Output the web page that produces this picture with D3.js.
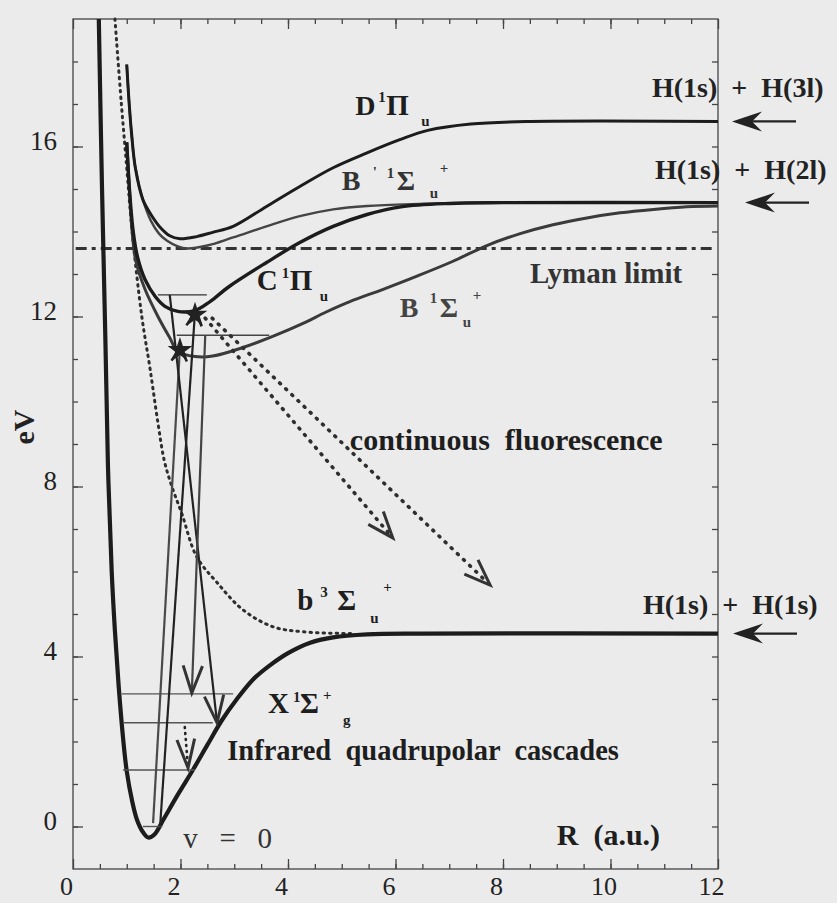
<!DOCTYPE html>
<html>
<head>
<meta charset="utf-8">
<script src="https://cdn.jsdelivr.net/npm/d3@7"></script>
<style>
  body { margin: 0; background: #ebebeb; }
  svg { display: block; font-family: "Liberation Serif", "Times New Roman", serif; }
  text { white-space: pre; }
</style>
</head>
<body>
<div id="chart"></div>
<script>
// potential energy curves of H2, points are [R (a.u.), E (eV)]
var curveX = [[0.48,19],[0.54,15],[0.6,11.6],[0.65,8.5],[0.72,6],[0.78,4.6],[0.85,3.3],[0.93,2.1],[1.0,1.3],[1.1,0.6],[1.19,0.16],[1.3,-0.13],[1.4,-0.26],[1.52,-0.18],[1.68,0.16],[1.95,0.75],[2.23,1.33],[2.5,1.92],[2.77,2.5],[3.05,3.0],[3.35,3.46],[3.65,3.78],[4.0,4.08],[4.4,4.32],[4.84,4.45],[5.47,4.52],[6.5,4.54],[12,4.54]];
var curveb3 = [[0.78,19],[0.9,17],[1.0,15.5],[1.1,14],[1.28,12],[1.43,10.8],[1.58,9.5],[1.7,8.6],[1.84,8.0],[2.03,7.34],[2.3,6.35],[2.68,5.74],[3.16,5.1],[3.72,4.7],[4.3,4.58],[5.2,4.54]];
var curveD = [[1.0,17.93],[1.04,17.1],[1.09,16.3],[1.16,15.5],[1.3,14.75],[1.45,14.4],[1.62,14.1],[1.8,13.9],[1.99,13.83],[2.3,13.88],[2.6,13.98],[2.98,14.12],[3.6,14.59],[4.22,15.06],[4.84,15.5],[5.47,15.85],[6.08,16.16],[6.6,16.38],[7.4,16.53],[8.5,16.59],[12,16.59]];
var curveBp = [[1.0,17.93],[1.04,17.1],[1.09,16.3],[1.16,15.5],[1.3,14.75],[1.45,14.25],[1.6,13.95],[1.75,13.78],[1.95,13.65],[2.12,13.6],[2.5,13.67],[2.98,13.86],[3.6,14.12],[4.22,14.36],[4.84,14.52],[5.47,14.6],[6.46,14.65],[7.5,14.68],[12,14.68]];
var curveC = [[1.0,16.1],[1.05,15.0],[1.12,14.0],[1.2,13.4],[1.34,12.87],[1.53,12.47],[1.71,12.24],[1.95,12.12],[2.27,12.14],[2.55,12.35],[2.9,12.7],[3.6,13.27],[4.22,13.74],[4.84,14.12],[5.47,14.4],[6.1,14.58],[7.0,14.66],[8,14.68],[12,14.68]];
var curveB = [[1.0,16.1],[1.05,15.0],[1.1,14.0],[1.17,13.3],[1.34,12.64],[1.58,12.0],[1.8,11.5],[1.95,11.18],[2.27,11.06],[2.6,11.07],[3.16,11.27],[3.75,11.55],[4.3,11.85],[4.7,12.1],[5.15,12.35],[5.77,12.64],[6.4,12.95],[7.07,13.3],[7.7,13.67],[8.32,13.95],[8.93,14.16],[9.56,14.32],[10.18,14.44],[10.8,14.52],[11.42,14.58],[12,14.6]];

// vibrational levels: energy, R start, R end
var levelsX = [[0,1.3,1.66],[1.33,0.93,2.27],[2.44,0.93,2.6],[3.12,0.91,2.98]];
var levelC = [12.51, 1.58, 2.49];
var levelB = [11.56, 1.93, 3.65];

// transitions [[R0,E0],[R1,E1]]
var upLines = [[[1.49,0.08],[1.99,11.28]], [[1.62,0],[2.27,12.11]]];
var downLines = [[[1.80,12.51],[2.68,2.44]], [[2.46,11.56],[2.21,3.14]]];
var irCascade = [[2.08,2.34],[2.14,1.38]];
var fluorLines = [[[2.46,11.96],[5.95,6.79]], [[2.59,11.96],[7.76,5.68]]];

var lymanE = 13.6;
var limitE = [16.59, 14.68, 4.54];
var limitLabels = ["H(1s)  +  H(3l)", "H(1s)  +  H(2l)", "H(1s)  +  H(1s)"];

var xMajor = [0, 2, 4, 6, 8, 10, 12];
var yMajor = [0, 4, 8, 12, 16];

var width = 837, height = 903;
var ink = "#1c1c1c";

var svg = d3.select("#chart").append("svg")
  .attr("width", width)
  .attr("height", height);

var x = d3.scaleLinear().domain([0, 12]).range([73, 718]);
var y = d3.scaleLinear().domain([-1, 19]).range([869, 19]);

// frame
svg.append("rect")
  .attr("x", x(0)).attr("y", y(19))
  .attr("width", x(12) - x(0)).attr("height", y(-1) - y(19))
  .attr("fill", "none").attr("stroke", "#444").attr("stroke-width", 1.3);

function styleAxis(g) {
  g.select(".domain").remove();
  g.selectAll(".tick line").attr("stroke", "#444").attr("stroke-width", 1.3);
  g.attr("font-family", null).attr("font-size", null);
  g.selectAll("text").attr("font-size", 27).attr("fill", "#222");
}

var minorX = d3.range(0.5, 12, 0.5);
var minorY = d3.range(0, 19, 1);

svg.append("g").attr("transform", "translate(0," + y(-1) + ")")
  .call(d3.axisBottom(x).tickValues(minorX).tickSize(-5).tickFormat(""))
  .call(styleAxis);
svg.append("g").attr("transform", "translate(0," + y(-1) + ")")
  .call(d3.axisBottom(x).tickValues(xMajor).tickSize(-10).tickPadding(8).tickFormat(d3.format("d")))
  .call(styleAxis)
  .call(g => g.selectAll("text").attr("font-size", 26).attr("dx", -7));
svg.append("g").attr("transform", "translate(0," + y(19) + ")")
  .call(d3.axisTop(x).tickValues(minorX).tickSize(-5).tickFormat(""))
  .call(styleAxis);
svg.append("g").attr("transform", "translate(0," + y(19) + ")")
  .call(d3.axisTop(x).tickValues(xMajor).tickSize(-10).tickFormat(""))
  .call(styleAxis);
svg.append("g").attr("transform", "translate(" + x(0) + ",0)")
  .call(d3.axisLeft(y).tickValues(minorY).tickSize(-5).tickFormat(""))
  .call(styleAxis);
svg.append("g").attr("transform", "translate(" + x(0) + ",0)")
  .call(d3.axisLeft(y).tickValues(yMajor).tickSize(-10).tickPadding(16).tickFormat(d3.format("d")))
  .call(styleAxis)
  .call(g => g.selectAll("text").attr("dy", "0.12em"));
svg.append("g").attr("transform", "translate(" + x(12) + ",0)")
  .call(d3.axisRight(y).tickValues(minorY).tickSize(-6).tickFormat(""))
  .call(styleAxis);

// Lyman limit
svg.append("line")
  .attr("x1", x(0.05)).attr("x2", x(11.9))
  .attr("y1", y(lymanE)).attr("y2", y(lymanE))
  .attr("stroke", "#333").attr("stroke-width", 2.8)
  .attr("stroke-dasharray", "11 5 4 5");

// curves
var line = d3.line()
  .x(d => x(d[0])).y(d => y(d[1]))
  .curve(d3.curveCatmullRom.alpha(0.5));

function drawCurve(data, color, w, dash) {
  svg.append("path").datum(data)
    .attr("d", line)
    .attr("fill", "none")
    .attr("stroke", color)
    .attr("stroke-width", w)
    .attr("stroke-linecap", dash ? "round" : "butt")
    .attr("stroke-dasharray", dash || null);
}

drawCurve(curveb3, "#2e2e2e", 3, "1.5 5");
drawCurve(curveB, "#3a3a3a", 3, null);
drawCurve(curveBp, "#444", 2.4, null);
drawCurve(curveC, ink, 3.4, null);
drawCurve(curveD, ink, 3, null);
drawCurve(curveX, ink, 4.2, null);

// vibrational levels
function level(e, r0, r1, color) {
  svg.append("line")
    .attr("x1", x(r0)).attr("x2", x(r1))
    .attr("y1", y(e)).attr("y2", y(e))
    .attr("stroke", color).attr("stroke-width", 1.4);
}
levelsX.forEach(l => level(l[0], l[1], l[2], "#555"));
level(levelC[0], levelC[1], levelC[2], "#333");
level(levelB[0], levelB[1], levelB[2], "#444");

// arrows
function vHead(p, q, len, half, color, w) {
  var a = Math.atan2(q[1] - p[1], q[0] - p[0]);
  var b1 = [q[0] - len * Math.cos(a - half), q[1] - len * Math.sin(a - half)];
  var b2 = [q[0] - len * Math.cos(a + half), q[1] - len * Math.sin(a + half)];
  svg.append("path")
    .attr("d", "M" + b1 + "L" + q + "L" + b2)
    .attr("fill", "none").attr("stroke", color)
    .attr("stroke-width", w).attr("stroke-linejoin", "miter");
}

function seg(l, color, w, dash) {
  svg.append("line")
    .attr("x1", x(l[0][0])).attr("y1", y(l[0][1]))
    .attr("x2", x(l[1][0])).attr("y2", y(l[1][1]))
    .attr("stroke", color).attr("stroke-width", w)
    .attr("stroke-linecap", dash ? "round" : "butt")
    .attr("stroke-dasharray", dash || null);
}

upLines.forEach((l, i) => {
  seg(l, i === 0 ? "#4a4a4a" : "#222", 2.2);
  var q = [x(l[1][0]), y(l[1][1])];
  svg.append("path")
    .attr("d", d3.symbol(d3.symbolStar).size(190))
    .attr("transform", "translate(" + q[0] + "," + (q[1] + 3) + ")")
    .attr("fill", "#222");
  vHead([x(l[0][0]), y(l[0][1])], q, 16, 0.5, "#222", 2.5);
});

downLines.forEach((l, i) => {
  seg(l, i === 0 ? "#222" : "#444", 2.2);
  vHead([x(l[0][0]), y(l[0][1])], [x(l[1][0]), y(l[1][1])], 29, 0.34, "#333", 3);
});

seg(irCascade, "#222", 2.6, "1 5");
vHead([x(irCascade[0][0]), y(irCascade[0][1])], [x(irCascade[1][0]), y(irCascade[1][1])], 30, 0.3, "#333", 3);

fluorLines.forEach(l => {
  seg(l, "#2e2e2e", 3.6, "1 7.5");
  vHead([x(l[0][0]), y(l[0][1])], [x(l[1][0]), y(l[1][1])], 28, 0.36, "#333", 3);
});

// dissociation limits on the right
var tipOffsets = [14, 27, 15];
limitE.forEach((e, i) => {
  var tip = x(12) + tipOffsets[i], yy = y(e);
  svg.append("line")
    .attr("x1", tip + 8).attr("x2", tip + 64)
    .attr("y1", yy).attr("y2", yy)
    .attr("stroke", "#222").attr("stroke-width", 2.2);
  svg.append("path")
    .attr("d", "M" + tip + "," + yy + "L" + (tip + 30) + "," + (yy - 10) +
      "L" + (tip + 20) + "," + yy + "L" + (tip + 30) + "," + (yy + 10) + "Z")
    .attr("fill", "#222");
  svg.append("text")
    .attr("x", [652, 655, 643][i]).attr("y", yy - [24, 24, 20][i])
    .attr("font-size", 28).attr("font-weight", "bold").attr("fill", "#222")
    .text(limitLabels[i]);
});

// state labels
function stateLabel(r, e, parts, color) {
  var g = svg.append("g").attr("transform", "translate(" + x(r) + "," + y(e) + ")");
  parts.forEach(p => {
    g.append("text")
      .attr("x", p[1]).attr("y", p[2])
      .attr("font-size", p[3]).attr("font-weight", "bold")
      .attr("fill", color || "#1e1e1e")
      .text(p[0]);
  });
}

stateLabel(5.25, 16.74, [["D",0,0,28],["1",23,-13,15],["Π",31,0,29],["u",66,11,15]]);
stateLabel(5.0, 14.98, [["B",0,0,28],["'",31,-13,15],["1",45,-12,15],["Σ",55,0,28],["u",88,8,15],["+",98,-17,15]], "#333");
stateLabel(3.42, 12.62, [["C",0,0,29],["1",25,-12,15],["Π",33,0,29],["u",63,11,15]]);
stateLabel(6.08, 11.99, [["B",0,0,28],["1",30,-14,15],["Σ",40,0,28],["u",63,10,15],["+",73,-17,15]], "#444");
stateLabel(4.17, 5.09, [["b",0,0,29],["3",23,-13,15],["Σ",40,0,29],["u",73,13,15],["+",86,-18,15]]);
stateLabel(3.63, 2.67, [["X",0,0,29],["1",25,-11,15],["Σ",32,0,29],["+",55,-13,15],["g",75,12,15]]);

function note(r, e, txt, size, weight, color) {
  svg.append("text")
    .attr("x", x(r)).attr("y", y(e))
    .attr("font-size", size).attr("font-weight", weight)
    .attr("fill", color || "#1e1e1e")
    .text(txt);
}

note(8.5, 12.79, "Lyman limit", 29, "bold", "#333");
note(5.15, 8.86, "continuous  fluorescence", 30, "bold");
note(2.87, 1.56, "Infrared  quadrupolar  cascades", 28.5, "bold");
note(2.05, -0.5, "v   =   0", 29, "normal", "#333");
note(9.0, -0.43, "R  (a.u.)", 30, "bold");

// y axis title
svg.append("text")
  .attr("transform", "translate(34,427) rotate(-90)")
  .attr("text-anchor", "middle")
  .attr("font-size", 30).attr("font-weight", "bold").attr("fill", "#222")
  .text("eV");
</script>
</body>
</html>
